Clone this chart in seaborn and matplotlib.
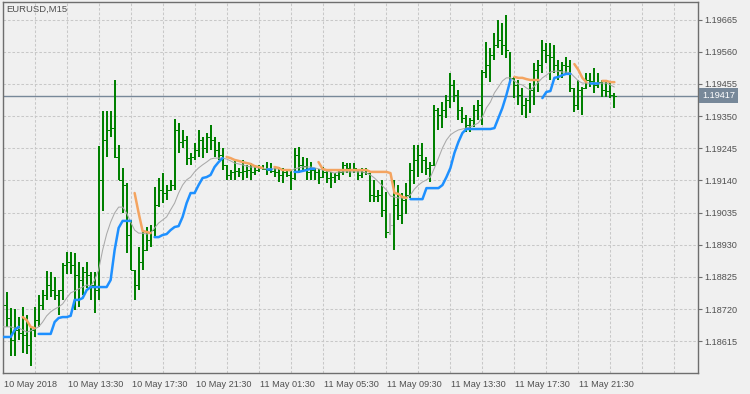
import numpy as np
import pandas as pd
import matplotlib
matplotlib.use('Agg')
import matplotlib.pyplot as plt
import matplotlib.transforms as mtransforms
from matplotlib.ticker import FormatStrFormatter
import seaborn as sns

nan = np.nan

# EURUSD M15 bars, 10 May 2018 09:30 .. 11 May 2018 23:45
bar_open = [
    1.18717, 1.18733, 1.18691, 1.18619, 1.18652, 1.18642, 1.18636, 1.18603, 1.18652, 1.18684,
    1.18733, 1.18766, 1.18799, 1.18782, 1.18766, 1.18782, 1.18864, 1.18874, 1.18864, 1.18831,
    1.18815, 1.18841, 1.18831, 1.18799, 1.18782, 1.19142, 1.19272, 1.19305, 1.19311, 1.19217,
    1.19142, 1.19125, 1.18962, 1.18848, 1.18799, 1.18874, 1.18913, 1.18946, 1.18978, 1.19060,
    1.19109, 1.19099, 1.19109, 1.19125, 1.19305, 1.19266, 1.19272, 1.19213, 1.19217, 1.19240,
    1.19272, 1.19246, 1.19282, 1.19272, 1.19240, 1.19223, 1.19191, 1.19158, 1.19168, 1.19171,
    1.19168, 1.19171, 1.19174, 1.19168, 1.19174, 1.19181, 1.19178, 1.19174, 1.19171, 1.19168,
    1.19158, 1.19168, 1.19158, 1.19148, 1.19223, 1.19191, 1.19187, 1.19168, 1.19174, 1.19168,
    1.19151, 1.19168, 1.19148, 1.19151, 1.19158, 1.19168, 1.19191, 1.19181, 1.19174, 1.19174,
    1.19158, 1.19168, 1.19164, 1.19093, 1.19089, 1.19093, 1.19044, 1.18995, 1.18995, 1.19060,
    1.19027, 1.19076, 1.19093, 1.19174, 1.19207, 1.19223, 1.19207, 1.19181, 1.19191, 1.19370,
    1.19354, 1.19370, 1.19403, 1.19452, 1.19419, 1.19370, 1.19344, 1.19321, 1.19337, 1.19370,
    1.19386, 1.19494, 1.19517, 1.19550, 1.19582, 1.19599, 1.19582, 1.19559, 1.19475, 1.19452,
    1.19419, 1.19386, 1.19403, 1.19435, 1.19501, 1.19517, 1.19566, 1.19550, 1.19543, 1.19517,
    1.19501, 1.19517, 1.19514, 1.19442, 1.19386, 1.19435, 1.19442, 1.19468, 1.19465, 1.19452,
    1.19461, 1.19435, 1.19432, 1.19419,
]
bar_high = [
    1.18782, 1.18776, 1.18724, 1.18720, 1.18694, 1.18727, 1.18701, 1.18658, 1.18727, 1.18766,
    1.18782, 1.18844, 1.18841, 1.18825, 1.18782, 1.18871, 1.18906, 1.18906, 1.18903, 1.18874,
    1.18858, 1.18874, 1.18841, 1.18841, 1.19253, 1.19367, 1.19367, 1.19367, 1.19468, 1.19256,
    1.19181, 1.19132, 1.19011, 1.18848, 1.18923, 1.18978, 1.18988, 1.18995, 1.19119, 1.19148,
    1.19164, 1.19125, 1.19142, 1.19341, 1.19328, 1.19305, 1.19285, 1.19230, 1.19262, 1.19305,
    1.19282, 1.19295, 1.19321, 1.19282, 1.19266, 1.19246, 1.19191, 1.19174, 1.19207, 1.19181,
    1.19207, 1.19191, 1.19197, 1.19191, 1.19191, 1.19191, 1.19200, 1.19197, 1.19184, 1.19184,
    1.19181, 1.19174, 1.19174, 1.19246, 1.19249, 1.19217, 1.19213, 1.19200, 1.19181, 1.19178,
    1.19184, 1.19174, 1.19168, 1.19164, 1.19174, 1.19200, 1.19197, 1.19197, 1.19197, 1.19174,
    1.19181, 1.19181, 1.19164, 1.19142, 1.19109, 1.19142, 1.19102, 1.19034, 1.19142, 1.19125,
    1.19099, 1.19132, 1.19197, 1.19256, 1.19256, 1.19262, 1.19217, 1.19200, 1.19386, 1.19377,
    1.19396, 1.19419, 1.19491, 1.19468, 1.19435, 1.19380, 1.19354, 1.19344, 1.19386, 1.19403,
    1.19501, 1.19592, 1.19572, 1.19622, 1.19664, 1.19654, 1.19680, 1.19559, 1.19478, 1.19468,
    1.19442, 1.19409, 1.19458, 1.19524, 1.19533, 1.19599, 1.19589, 1.19589, 1.19582, 1.19533,
    1.19527, 1.19543, 1.19533, 1.19442, 1.19468, 1.19445, 1.19491, 1.19491, 1.19507, 1.19491,
    1.19468, 1.19461, 1.19461, 1.19425,
]
bar_low = [
    1.18668, 1.18662, 1.18567, 1.18567, 1.18619, 1.18577, 1.18573, 1.18534, 1.18629, 1.18662,
    1.18717, 1.18750, 1.18760, 1.18750, 1.18701, 1.18750, 1.18835, 1.18835, 1.18717, 1.18727,
    1.18766, 1.18789, 1.18750, 1.18707, 1.18750, 1.19040, 1.19217, 1.19282, 1.19213, 1.19142,
    1.19034, 1.18903, 1.18848, 1.18750, 1.18782, 1.18848, 1.18913, 1.18923, 1.18955, 1.19053,
    1.19066, 1.19076, 1.19109, 1.19109, 1.19230, 1.19246, 1.19191, 1.19191, 1.19207, 1.19217,
    1.19213, 1.19230, 1.19240, 1.19217, 1.19207, 1.19174, 1.19142, 1.19142, 1.19142, 1.19151,
    1.19142, 1.19148, 1.19142, 1.19158, 1.19168, 1.19174, 1.19158, 1.19164, 1.19151, 1.19135,
    1.19132, 1.19151, 1.19109, 1.19142, 1.19164, 1.19174, 1.19142, 1.19142, 1.19142, 1.19128,
    1.19148, 1.19132, 1.19115, 1.19132, 1.19142, 1.19158, 1.19164, 1.19151, 1.19164, 1.19142,
    1.19148, 1.19158, 1.19070, 1.19070, 1.19070, 1.19021, 1.18952, 1.18962, 1.18913, 1.19011,
    1.18998, 1.19031, 1.19083, 1.19128, 1.19151, 1.19164, 1.19158, 1.19135, 1.19191, 1.19305,
    1.19311, 1.19344, 1.19377, 1.19396, 1.19337, 1.19328, 1.19298, 1.19298, 1.19315, 1.19337,
    1.19321, 1.19475, 1.19461, 1.19533, 1.19572, 1.19550, 1.19540, 1.19458, 1.19409, 1.19386,
    1.19354, 1.19344, 1.19360, 1.19386, 1.19429, 1.19491, 1.19524, 1.19468, 1.19491, 1.19468,
    1.19475, 1.19491, 1.19429, 1.19363, 1.19370, 1.19354, 1.19442, 1.19445, 1.19426, 1.19442,
    1.19412, 1.19412, 1.19409, 1.19377,
]
bar_close = [
    1.18733, 1.18691, 1.18619, 1.18652, 1.18642, 1.18636, 1.18603, 1.18652, 1.18684, 1.18733,
    1.18766, 1.18799, 1.18782, 1.18766, 1.18782, 1.18864, 1.18874, 1.18864, 1.18831, 1.18815,
    1.18841, 1.18831, 1.18799, 1.18782, 1.19142, 1.19272, 1.19305, 1.19311, 1.19217, 1.19142,
    1.19125, 1.18962, 1.18848, 1.18799, 1.18874, 1.18913, 1.18946, 1.18978, 1.19060, 1.19109,
    1.19099, 1.19109, 1.19125, 1.19305, 1.19266, 1.19272, 1.19213, 1.19217, 1.19240, 1.19272,
    1.19246, 1.19282, 1.19272, 1.19240, 1.19223, 1.19191, 1.19158, 1.19168, 1.19171, 1.19168,
    1.19171, 1.19174, 1.19168, 1.19174, 1.19181, 1.19178, 1.19174, 1.19171, 1.19168, 1.19158,
    1.19168, 1.19158, 1.19148, 1.19223, 1.19191, 1.19187, 1.19168, 1.19174, 1.19168, 1.19151,
    1.19168, 1.19148, 1.19151, 1.19158, 1.19168, 1.19191, 1.19181, 1.19174, 1.19181, 1.19158,
    1.19168, 1.19164, 1.19093, 1.19089, 1.19093, 1.19044, 1.18972, 1.18995, 1.19060, 1.19027,
    1.19076, 1.19093, 1.19174, 1.19207, 1.19223, 1.19207, 1.19181, 1.19191, 1.19370, 1.19354,
    1.19370, 1.19403, 1.19452, 1.19419, 1.19370, 1.19344, 1.19321, 1.19337, 1.19370, 1.19386,
    1.19494, 1.19517, 1.19550, 1.19582, 1.19599, 1.19582, 1.19566, 1.19475, 1.19452, 1.19419,
    1.19386, 1.19403, 1.19435, 1.19501, 1.19517, 1.19566, 1.19550, 1.19543, 1.19517, 1.19501,
    1.19517, 1.19514, 1.19442, 1.19386, 1.19435, 1.19442, 1.19468, 1.19465, 1.19452, 1.19461,
    1.19435, 1.19432, 1.19419, 1.19417,
]

# thin grey average
avg_line = [
    1.18662, 1.18662, 1.18662, 1.18658, 1.18658, 1.18652, 1.18645, 1.18649, 1.18655, 1.18662,
    1.18678, 1.18698, 1.18711, 1.18720, 1.18727, 1.18737, 1.18756, 1.18773, 1.18779, 1.18786,
    1.18792, 1.18799, 1.18795, 1.18815, 1.18848, 1.18913, 1.18965, 1.19004, 1.19034, 1.19053,
    1.19053, 1.19034, 1.19004, 1.18978, 1.18968, 1.18968, 1.18965, 1.18968, 1.18985, 1.19001,
    1.19011, 1.19021, 1.19044, 1.19066, 1.19099, 1.19125, 1.19142, 1.19151, 1.19168, 1.19181,
    1.19191, 1.19200, 1.19210, 1.19213, 1.19213, 1.19213, 1.19210, 1.19204, 1.19197, 1.19194,
    1.19191, 1.19187, 1.19184, 1.19184, 1.19181, 1.19178, 1.19178, 1.19178, 1.19178, 1.19178,
    1.19174, 1.19174, 1.19171, 1.19178, 1.19181, 1.19184, 1.19184, 1.19184, 1.19181, 1.19178,
    1.19174, 1.19171, 1.19168, 1.19164, 1.19168, 1.19168, 1.19168, 1.19168, 1.19168, 1.19168,
    1.19168, 1.19164, 1.19158, 1.19148, 1.19135, 1.19122, 1.19109, 1.19089, 1.19086, 1.19083,
    1.19083, 1.19083, 1.19093, 1.19112, 1.19125, 1.19135, 1.19142, 1.19151, 1.19181, 1.19213,
    1.19246, 1.19272, 1.19289, 1.19298, 1.19305, 1.19308, 1.19311, 1.19315, 1.19321, 1.19328,
    1.19347, 1.19377, 1.19396, 1.19426, 1.19445, 1.19465, 1.19475, 1.19475, 1.19465, 1.19455,
    1.19452, 1.19442, 1.19435, 1.19448, 1.19461, 1.19475, 1.19484, 1.19494, 1.19497, 1.19497,
    1.19494, 1.19494, 1.19491, 1.19478, 1.19465, 1.19458, 1.19458, 1.19458, 1.19458, 1.19458,
    1.19458, 1.19458, 1.19452, 1.19445,
]

# thick trend line, up part
trend_up = [
    1.18629, 1.18629, 1.18629, 1.18652, 1.18662, nan, nan, nan, nan, 1.18639,
    1.18639, 1.18639, 1.18639, 1.18678, 1.18691, 1.18694, 1.18694, 1.18698, 1.18750, 1.18750,
    1.18756, 1.18782, 1.18792, 1.18792, 1.18792, 1.18792, 1.18792, 1.18815, 1.18913, 1.18985,
    1.19008, 1.19008, 1.19008, nan, nan, nan, nan, nan, 1.18955, 1.18955,
    1.18962, 1.18965, 1.18978, 1.18988, 1.18991, 1.19021, 1.19066, 1.19099, 1.19099, 1.19125,
    1.19148, 1.19151, 1.19158, 1.19184, 1.19200, 1.19213, nan, nan, nan, nan,
    nan, nan, nan, nan, nan, nan, 1.19178, 1.19178, nan, nan,
    nan, nan, nan, 1.19168, 1.19168, 1.19171, 1.19174, 1.19178, 1.19178, nan,
    nan, nan, nan, nan, nan, nan, nan, nan, nan, nan,
    nan, nan, nan, nan, nan, nan, nan, nan, nan, nan,
    nan, nan, 1.19079, 1.19079, 1.19079, 1.19079, 1.19115, 1.19115, 1.19115, 1.19115,
    1.19125, 1.19151, 1.19181, 1.19230, 1.19266, 1.19295, 1.19308, 1.19308, 1.19308, 1.19308,
    1.19308, 1.19308, 1.19308, 1.19311, 1.19344, 1.19377, 1.19419, 1.19468, nan, nan,
    nan, nan, nan, nan, nan, 1.19409, 1.19429, 1.19432, 1.19475, 1.19478,
    1.19484, 1.19488, 1.19488, nan, nan, nan, nan, 1.19458, 1.19458, 1.19458,
    nan, nan, nan, nan,
]

# thick trend line, down part
trend_down = [
    nan, nan, nan, nan, nan, 1.18694, 1.18684, 1.18662, 1.18658, nan,
    nan, nan, nan, nan, nan, nan, nan, nan, nan, nan,
    nan, nan, nan, nan, nan, nan, nan, nan, nan, nan,
    nan, nan, nan, 1.19099, 1.19034, 1.18975, 1.18972, 1.18968, nan, nan,
    nan, nan, nan, nan, nan, nan, nan, nan, nan, nan,
    nan, nan, nan, nan, nan, nan, 1.19217, 1.19213, 1.19207, 1.19204,
    1.19200, 1.19197, 1.19194, 1.19187, 1.19184, 1.19181, nan, nan, 1.19184, 1.19181,
    1.19174, 1.19174, 1.19174, nan, nan, nan, nan, nan, nan, 1.19200,
    1.19178, 1.19174, 1.19174, 1.19174, 1.19174, 1.19174, 1.19174, 1.19174, 1.19174, 1.19174,
    1.19174, 1.19174, 1.19168, 1.19168, 1.19168, 1.19168, 1.19168, 1.19164, 1.19099, 1.19096,
    1.19086, 1.19083, nan, nan, nan, nan, nan, nan, nan, nan,
    nan, nan, nan, nan, nan, nan, nan, nan, nan, nan,
    nan, nan, nan, nan, nan, nan, nan, nan, 1.19478, 1.19475,
    1.19475, 1.19471, 1.19468, 1.19468, 1.19468, nan, nan, nan, nan, nan,
    nan, nan, nan, 1.19520, 1.19501, 1.19475, 1.19461, nan, nan, nan,
    1.19465, 1.19465, 1.19461, 1.19461,
]

chart_title = 'EURUSD,M15'
first_bar_time = '2018-05-10 09:30'
last_price = 1.19417
price_ticks = [1.18615, 1.18720, 1.18825, 1.18930, 1.19035, 1.19140,
               1.19245, 1.19350, 1.19455, 1.19560, 1.19665]
label_times = ['2018-05-10 09:30', '2018-05-10 13:30', '2018-05-10 17:30',
               '2018-05-10 21:30', '2018-05-11 01:30', '2018-05-11 05:30',
               '2018-05-11 09:30', '2018-05-11 13:30', '2018-05-11 17:30',
               '2018-05-11 21:30']
time_labels = ['10 May 2018', '10 May 13:30', '10 May 17:30', '10 May 21:30',
               '11 May 01:30', '11 May 05:30', '11 May 09:30', '11 May 13:30',
               '11 May 17:30', '11 May 21:30']

# colours
BG = '#f0f0f0'
FRAME = '#6e6e6e'
TEXT = '#505050'
GRID = '#c8c8c8'
BAR = '#008000'
DOJI = '#b4b4b4'
UP = '#1e90ff'
DOWN = '#f4a460'
AVG = '#a9a9a9'
PRICE = '#778899'

sns.set_style('white')
plt.rcParams['font.family'] = ['Liberation Sans', 'DejaVu Sans']

bars = pd.DataFrame({'open': bar_open, 'high': bar_high, 'low': bar_low, 'close': bar_close,
                     'avg': avg_line, 'up': trend_up, 'down': trend_down})
bars['time'] = pd.date_range(first_bar_time, periods=len(bars), freq='15min')
bars['bar'] = np.arange(len(bars))


def runs(col):
    # split a gappy series into separate pieces so the gaps stay open
    valid = bars[col].notna()
    seg = (valid != valid.shift()).cumsum()
    out = pd.DataFrame({'bar': bars['bar'], 'price': bars[col], 'seg': seg})
    return out[valid]


fig = plt.figure(figsize=(7.5, 3.94), dpi=100, facecolor=BG)
ax = fig.add_axes([2.5 / 750, 1 - 373.3 / 394, 695 / 750, 371 / 394])
ax.set_facecolor(BG)

# grid
ax.set_xticks(np.arange(8, 174, 8), minor=True)
ax.grid(which='both', axis='x', color=GRID, lw=0.75, ls=(0, (2.5, 1.8)), zorder=0)
ax.grid(which='major', axis='y', color=GRID, lw=0.75, ls=(0, (2.5, 1.8)), zorder=0)
ax.set_axisbelow(True)

# current price line
ax.axhline(last_price, color=PRICE, lw=1.0, zorder=1)

# OHLC bars
colors = np.where(bars['open'] == bars['close'], DOJI, BAR)
ax.vlines(bars['bar'], bars['low'], bars['high'], colors=colors, lw=1.3, zorder=2,
          antialiased=False)
ax.hlines(bars['open'], bars['bar'] - 0.4, bars['bar'], colors=colors, lw=0.7, zorder=2,
          antialiased=False)
ax.hlines(bars['close'], bars['bar'], bars['bar'] + 0.4, colors=colors, lw=0.7, zorder=2,
          antialiased=False)

# indicator lines
sns.lineplot(data=bars, x='bar', y='avg', color=AVG, lw=0.75, ax=ax, zorder=3)
sns.lineplot(data=runs('up'), x='bar', y='price', units='seg', estimator=None,
             color=UP, lw=1.8, ax=ax, zorder=4)
sns.lineplot(data=runs('down'), x='bar', y='price', units='seg', estimator=None,
             color=DOWN, lw=1.8, ax=ax, zorder=4)

ax.set_xlim(-0.05, 173.8)
ax.set_ylim(1.185104, 1.197217)
ax.set_xlabel('')
ax.set_ylabel('')

# axes / ticks
label_pos = bars.set_index('time').index.get_indexer(pd.to_datetime(label_times))
ax.set_xticks(label_pos)
ax.set_xticklabels(time_labels, ha='left')
ax.yaxis.tick_right()
ax.set_yticks(price_ticks)
ax.yaxis.set_major_formatter(FormatStrFormatter('%.5f'))
ax.tick_params(axis='both', which='major', direction='out', length=3.2, width=0.8,
               color=FRAME, labelcolor=TEXT, labelsize=6.6, pad=1.5)
ax.tick_params(axis='x', which='minor', length=0)
for lab in ax.get_xticklabels():
    lab.set_transform(lab.get_transform() + mtransforms.ScaledTranslation(1 / 100, 0, fig.dpi_scale_trans))
for side in ['left', 'right', 'top', 'bottom']:
    ax.spines[side].set_visible(True)
    ax.spines[side].set_color(FRAME)
    ax.spines[side].set_linewidth(1.0)

# price label on the scale
trans = mtransforms.blended_transform_factory(ax.transAxes, ax.transData)
ax.text(1.0068, last_price, f'{last_price:.5f}', transform=trans, ha='left', va='center',
        fontsize=6.6, color='white', zorder=6, clip_on=False,
        bbox=dict(boxstyle='square,pad=0.3', fc=PRICE, ec='none'))

fig.text(6.5 / 750, 1 - 9.3 / 394, chart_title, ha='left', va='center', fontsize=6.8, color=TEXT)

fig.savefig('out.png', dpi=100, facecolor=BG)
